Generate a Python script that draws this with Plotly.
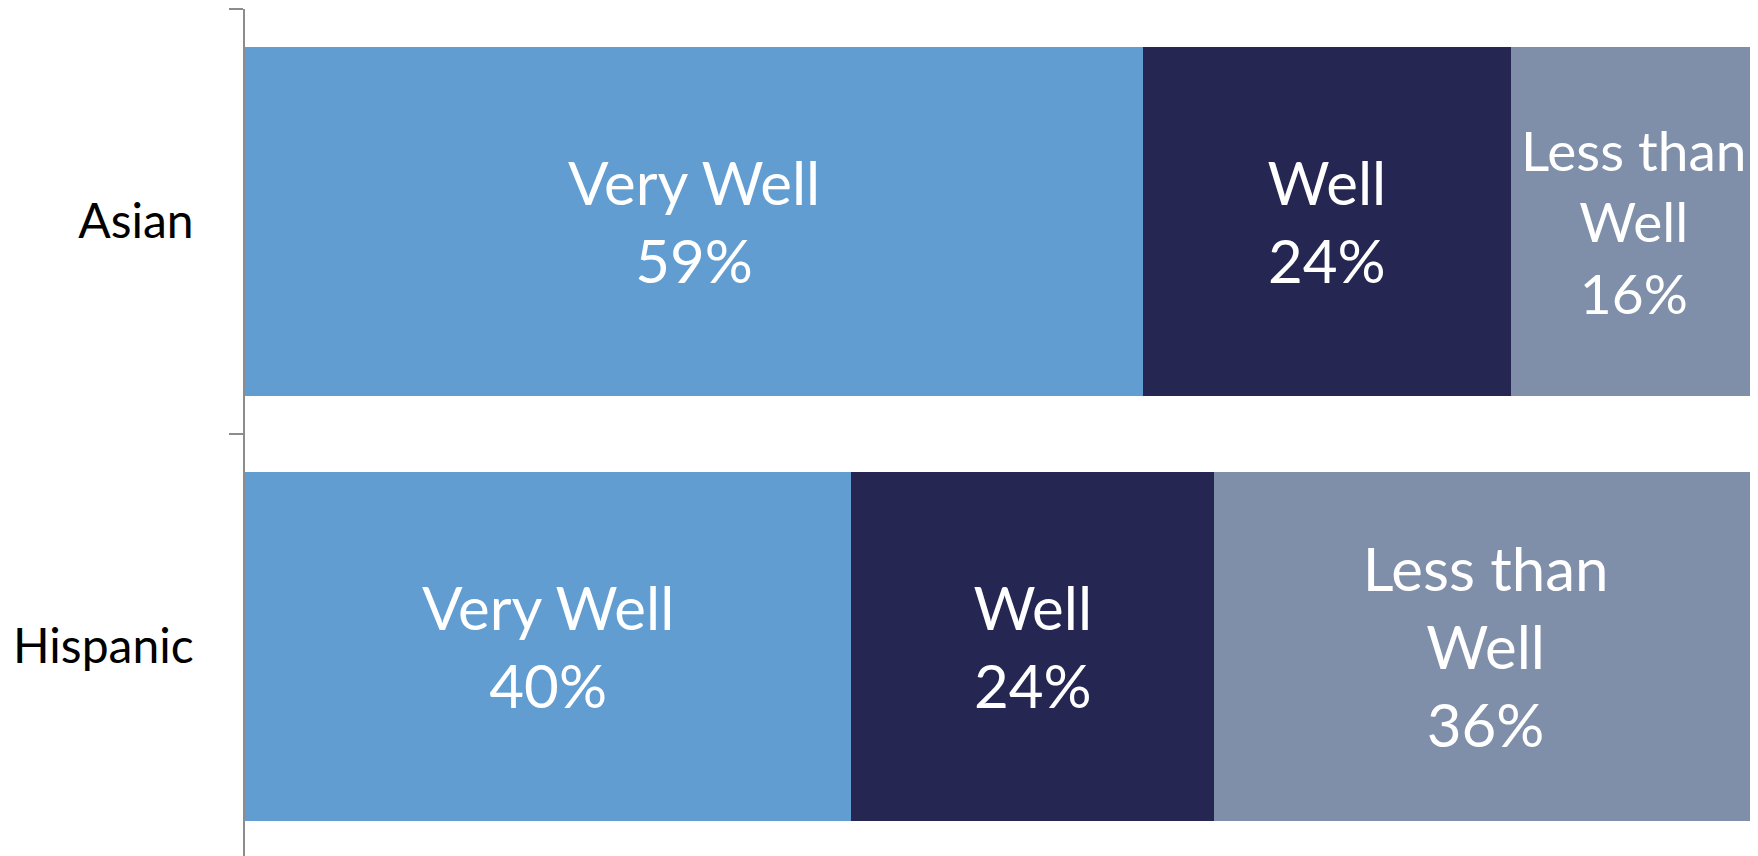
import plotly.graph_objects as go

groups = ["Asian", "Hispanic"]
levels = ["Very Well", "Well", "Less than<br>Well"]
values = {
    "Very Well": [59.4, 40.1],
    "Well": [24.3, 24.0],
    "Less than<br>Well": [16.3, 35.9],
}
colors = {
    "Very Well": "#629DD1",
    "Well": "#252752",
    "Less than<br>Well": "#7F8FA9",
}
label_sizes = {
    "Very Well": 60,
    "Well": 60,
    "Less than<br>Well": [55, 60],
}

fig = go.Figure()
for lvl in levels:
    vals = values[lvl]
    fig.add_trace(go.Bar(
        y=groups, x=vals, orientation="h", name=lvl,
        marker=dict(color=colors[lvl], line=dict(width=0)),
        text=[f"{lvl}<br>{round(v)}%" for v in vals],
        textposition="inside", insidetextanchor="middle", textangle=0,
        textfont=dict(color="white", size=label_sizes[lvl], family="Lato"),
        hoverinfo="skip",
    ))

fig.update_layout(
    barmode="stack", barnorm="percent", bargap=0.18,
    width=1758, height=856,
    margin=dict(l=237, r=9, t=1, b=0, autoexpand=False),
    plot_bgcolor="white", paper_bgcolor="white",
    showlegend=False,
    font=dict(family="Lato", color="black"),
)
fig.update_xaxes(range=[0, 100], visible=False, showgrid=False, automargin=False)
fig.update_yaxes(
    categoryorder="array", categoryarray=groups,
    range=[1.512, -0.5], automargin=False,
    showline=True, linecolor="#8C8C8C", linewidth=1.5,
    ticks="outside", tickson="boundaries", ticklen=14, tickcolor="#8C8C8C", tickwidth=1.5,
    tickfont=dict(size=48, color="black", family="Lato"),
    ticklabelstandoff=40, showgrid=False, zeroline=False,
)
fig.write_html("out.html")
